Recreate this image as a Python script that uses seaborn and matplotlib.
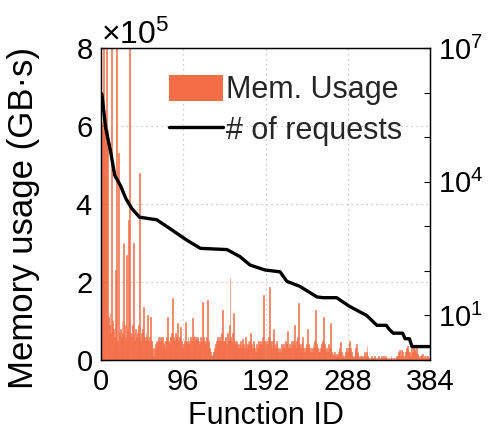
import matplotlib
matplotlib.use("Agg")
import numpy as np
import pandas as pd
import seaborn as sns
import matplotlib.pyplot as plt
from matplotlib.ticker import ScalarFormatter, FixedLocator, NullFormatter, LogFormatterMathtext
from matplotlib.patches import Patch
from matplotlib.lines import Line2D

# ---------------- data ----------------
# memory usage per function (units of 1e5 GB·s), function IDs 1..384
mem_1e5 = [
    6.1, 5.9, 9.0, 6.0, 6.2, 5.8, 9.0, 5.9, 1.1, 0.9, 1.2, 0.7, 9.0, 1.0, 0.8, 0.6,
    2.3, 0.9, 9.0, 0.5, 5.3, 0.7, 0.8, 0.6, 1.0, 0.7, 3.0, 0.9, 0.6, 2.7, 0.8, 0.5,
    3.6, 9.0, 0.7, 0.6, 0.9, 3.0, 0.7, 0.5, 0.8, 0.6, 0.7, 0.9, 4.8, 0.6, 0.5, 0.7,
    0.8, 1.36, 0.6, 0.5, 0.7, 0.6, 1.15, 0.5, 0.6, 1.1, 0.5, 0.4, 0.3, 0.1, 0.3, 0.4,
    0.5, 0.4, 0.5, 0.6, 0.5, 0.6, 0.5, 0.6, 0.4, 0.5, 0.3, 0.5, 0.6, 1.1, 0.5, 0.4,
    0.5, 0.6, 0.7, 1.6, 0.6, 0.5, 0.7, 0.5, 0.6, 0.95, 0.5, 0.6, 0.85, 0.5, 0.4, 0.3,
    0.4, 0.5, 0.97, 0.5, 0.4, 0.6, 0.5, 0.4, 0.6, 0.5, 1.07, 0.6, 0.63, 0.5, 0.6, 0.55,
    0.6, 0.5, 0.4, 0.5, 0.6, 0.5, 1.5, 0.6, 0.5, 0.4, 0.5, 0.6, 1.54, 0.5, 0.3, 0.2,
    0.1, 0.15, 0.1, 0.2, 0.3, 0.4, 0.5, 0.6, 0.4, 0.5, 0.6, 0.5, 0.7, 1.28, 0.5, 0.4,
    0.5, 0.6, 0.4, 0.7, 0.5, 0.9, 2.1, 0.6, 0.5, 0.7, 1.2, 0.5, 0.4, 0.3, 0.5, 0.4,
    0.3, 0.4, 0.5, 0.3, 0.4, 0.55, 0.4, 0.3, 0.6, 0.4, 0.3, 0.5, 0.4, 0.5, 0.7, 0.4,
    0.3, 0.5, 0.4, 0.3, 0.2, 0.4, 0.3, 0.5, 0.4, 0.3, 0.5, 0.4, 0.6, 1.67, 0.5, 0.4,
    0.3, 0.5, 0.4, 0.6, 1.87, 0.5, 0.4, 0.3, 0.5, 0.8, 0.4, 0.3, 0.5, 0.4, 0.3, 0.2,
    0.3, 0.2, 0.4, 0.3, 0.2, 0.4, 0.3, 0.5, 0.4, 0.75, 0.3, 0.2, 0.4, 0.3, 0.5, 0.4,
    0.5, 0.9, 0.4, 0.3, 0.5, 0.6, 1.45, 0.4, 0.3, 0.2, 0.4, 0.6, 0.3, 0.2, 0.3, 0.4,
    0.5, 0.8, 0.4, 0.3, 0.2, 0.3, 0.2, 0.4, 0.3, 0.5, 1.28, 0.4, 0.3, 0.2, 0.3, 0.2,
    0.3, 0.4, 0.5, 1.1, 0.4, 0.3, 0.2, 0.3, 0.2, 0.4, 0.3, 0.95, 0.3, 0.2, 0.15, 0.1,
    0.2, 0.1, 0.15, 0.05, 0.1, 0.2, 0.3, 0.47, 0.2, 0.1, 0.15, 0.05, 0.1, 0.2, 0.3, 0.2,
    0.3, 0.4, 0.5, 0.3, 0.2, 0.1, 0.05, 0.1, 0.2, 0.3, 0.4, 0.2, 0.1, 0.05, 0.1, 0.05,
    0.1, 0.05, 0.1, 0.2, 0.1, 0.2, 0.36, 0.1, 0.05, 0.0, 0.05, 0.1, 0.05, 0.0, 0.05, 0.1,
    0.05, 0.0, 0.05, 0.1, 0.05, 0.0, 0.05, 0.1, 0.05, 0.1, 0.05, 0.0, 0.1, 0.05, 0.0, 0.05,
    0.0, 0.05, 0.1, 0.05, 0.0, 0.05, 0.0, 0.05, 0.1, 0.05, 0.1, 0.2, 0.25, 0.1, 0.25, 0.2,
    0.1, 0.05, 0.1, 0.2, 0.3, 0.37, 0.2, 0.1, 0.2, 0.1, 0.3, 0.2, 0.35, 0.25, 0.3, 0.2,
    0.3, 0.15, 0.1, 0.05, 0.1, 0.15, 0.1, 0.15, 0.05, 0.1, 0.05, 0.1, 0.05, 0.1, 0.05, 0.0,
]

# number of requests (sorted), read at breakpoints along function ID
req_ids = [1, 5.5, 11, 16, 23, 29, 36, 45, 65, 80, 100, 116, 147, 162, 174, 191,
           209, 217, 232, 252, 259, 275, 290, 310, 322, 333, 336, 341, 352, 355,
           360, 363, 384]
req_counts = [930000, 160000, 50000, 14000, 8000, 4200, 2500, 1600, 1400, 900, 490,
              320, 300, 210, 135, 105, 95, 58, 45, 26, 25, 25, 16, 10, 6, 6, 5, 4,
              4, 3, 3, 2, 2]

x_ticks = [0, 96, 192, 288, 384]
y_ticks_1e5 = [0, 2, 4, 6, 8]
right_ticks = [1e1, 1e4, 1e7]

ORANGE = "#F26D45"

# ---------------- style ----------------
sns.set_theme(style="white")
plt.rcParams["font.family"] = ["Liberation Sans", "DejaVu Sans"]
plt.rcParams["mathtext.fontset"] = "custom"
plt.rcParams["mathtext.rm"] = "Liberation Sans"
plt.rcParams["mathtext.it"] = "Liberation Sans:italic"
plt.rcParams["mathtext.bf"] = "Liberation Sans:bold"

FS_TICK = 21
FS_LABEL = 22

fig = plt.figure(figsize=(4.92, 4.41), dpi=100)
ax = fig.add_axes([101 / 492, 1 - 360 / 441, 329 / 492, 312 / 441])

n = len(mem_1e5)
df = pd.DataFrame({"fid": np.arange(n) + 0.5, "mem": np.array(mem_1e5) * 1e5})
sns.histplot(data=df, x="fid", weights="mem", bins=n, binrange=(0, n),
             color=ORANGE, alpha=1, linewidth=0.4, edgecolor=ORANGE, ax=ax)

ax.set_xlim(0, 384)
ax.set_ylim(0, 8e5)
ax.set_xticks(x_ticks)
ax.set_yticks([v * 1e5 for v in y_ticks_1e5])
fmt = ScalarFormatter(useMathText=True)
fmt.set_powerlimits((0, 0))
ax.yaxis.set_major_formatter(fmt)
ax.yaxis.get_offset_text().set_fontsize(23)
ax.yaxis.get_offset_text().set_x(0.025)
ax.grid(True, linestyle=(0, (1, 3)), color="#bdbdbd", linewidth=0.9)
ax.set_axisbelow(True)
ax.tick_params(axis="both", direction="in", length=4, labelsize=FS_TICK, colors="black",
               width=0.8, pad=6)
ax.set_xlabel("Function ID", fontsize=FS_LABEL, color="black", labelpad=3)
ax.set_ylabel("Memory usage (GB·s)", fontsize=25, color="black")
ax.yaxis.set_label_coords(-0.185, 0.455)
for s in ax.spines.values():
    s.set_color("black")
    s.set_linewidth(0.9)

ax2 = ax.twinx()
sns.lineplot(x=req_ids, y=req_counts, ax=ax2, color="black", linewidth=2.4)
ax2.set_yscale("log")
ax2.set_ylim(1, 1e7)
ax2.yaxis.set_major_locator(FixedLocator(right_ticks))
ax2.yaxis.set_major_formatter(LogFormatterMathtext())
ax2.yaxis.set_minor_locator(FixedLocator([1e0, 1e2, 1e3, 1e5, 1e6]))
ax2.yaxis.set_minor_formatter(NullFormatter())
ax2.tick_params(axis="y", which="both", direction="in", length=4, labelsize=FS_TICK,
                colors="black", width=0.8, pad=6)
ax2.grid(False)
for s in ax2.spines.values():
    s.set_color("black")
    s.set_linewidth(0.9)

handles = [Patch(facecolor=ORANGE, edgecolor="none"),
           Line2D([0], [0], color="black", linewidth=2.4)]
ax2.legend(handles, ["Mem. Usage", "# of requests"], loc="upper left",
           bbox_to_anchor=(0.207, 0.915), frameon=False, fontsize=22,
           handlelength=1.75, handleheight=0.95, handletextpad=0.12,
           labelspacing=0.32, borderpad=0, borderaxespad=0)

fig.savefig("out.png", dpi=100)
